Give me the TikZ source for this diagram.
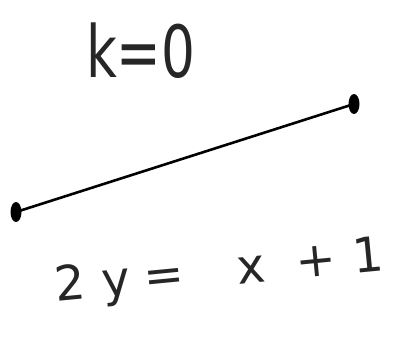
\documentclass[tikz,border=0pt]{standalone}
\usepackage{fontspec}
\setsansfont{DejaVu Sans}
\begin{document}
\begin{tikzpicture}[x=1pt,y=-1pt,
  pen/.style={line width=2.6pt,black},
  hand/.style={font=\sffamily\selectfont,inner sep=0pt,anchor=base west,text=black!85}]
\useasboundingbox (0,0) rectangle (394,338);
\coordinate (p) at (16,212);
\coordinate (q) at (354,104);
\draw[pen] (p) -- (q);
\fill[black] (p) ellipse [x radius=5.5pt, y radius=10pt];
\fill[black] (q) ellipse [x radius=5.5pt, y radius=10pt];
\node[hand,font=\sffamily\fontsize{72}{72}\selectfont,xscale=0.74] (k) at (86,77) {k=0};
\node[hand,font=\sffamily\fontsize{48}{48}\selectfont,rotate=5.5] (eq) at (56,302) {2\hspace{0.35em}y\hspace{0.3em}=\hspace{1.1em}x\hspace{0.65em}+\hspace{0.35em}1};
\end{tikzpicture}
\end{document}
